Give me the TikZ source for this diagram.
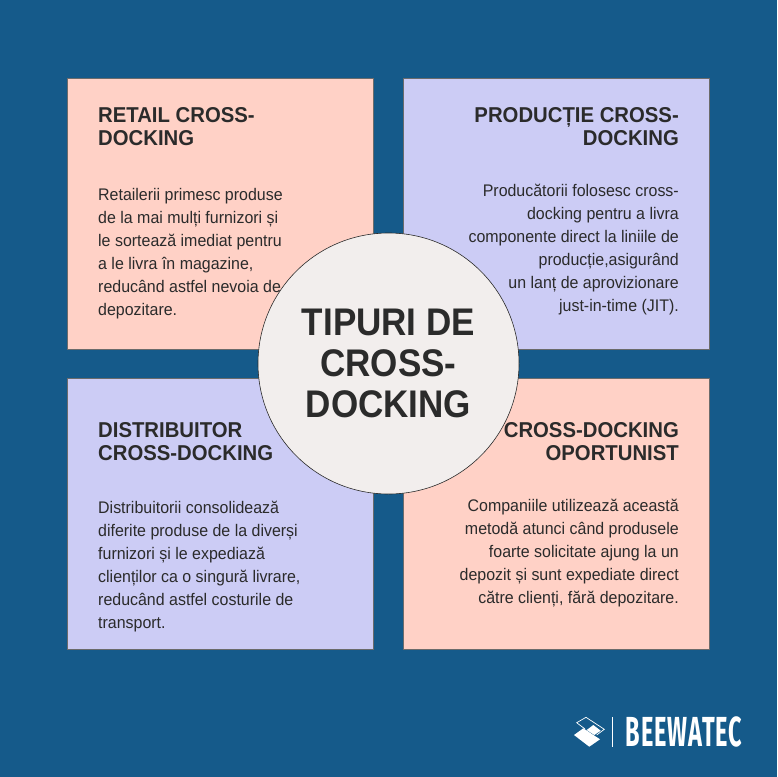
\documentclass[tikz,border=0pt]{standalone}
\usepackage{fontspec}
\setmainfont{Liberation Sans}
\newfontfamily\logofont[LetterSpace=4]{Fira Sans}
\definecolor{bgblue}{HTML}{155A8A}
\definecolor{peach}{HTML}{FFD1C6}
\definecolor{lav}{HTML}{CCCCF5}
\definecolor{disc}{HTML}{F2EEED}
\definecolor{ink}{HTML}{2B2B2B}
\tikzset{
  card/.style={draw=ink!70,line width=.6pt,outer sep=0,minimum width=306pt,minimum height=271pt,inner sep=0,anchor=north west},
  headL/.style={text=ink,inner sep=0,xscale=.945,anchor=north west,align=left,font=\fontsize{21.5}{23}\selectfont\bfseries},
  headR/.style={text=ink,inner sep=0,xscale=.945,anchor=north east,align=right,font=\fontsize{21.5}{23}\selectfont\bfseries},
  bodyL/.style={text=ink,inner sep=0,xscale=.95,anchor=north west,align=left,font=\fontsize{16.8}{23}\selectfont},
  bodyR/.style={text=ink,inner sep=0,xscale=.95,anchor=north east,align=right,font=\fontsize{16.8}{23}\selectfont},
}
\begin{document}
\begin{tikzpicture}[x=1pt,y=-1pt]
\useasboundingbox (0,0) rectangle (777,777);
\fill[bgblue] (0,0) rectangle (777,777);
\node[card,fill=peach] (a) at (67.3,78) {};
\node[card,fill=lav] (b) at (403.5,78) {};
\node[card,fill=lav] (c) at (67.3,377.8) {};
\node[card,fill=peach] (d) at (403.5,377.8) {};
\node[circle,draw=ink,line width=.6pt,fill=disc,minimum size=261pt,inner sep=0] (m) at (388.5,363.5) {};
\node[text=ink,inner sep=0,xscale=.91,align=center,font=\fontsize{38.5}{41}\selectfont\bfseries] (mt) at (388.5,363) {TIPURI DE\\CROSS-\\DOCKING};
\node[headL] (a1) at (98,107) {RETAIL CROSS-\\DOCKING};
\node[bodyL] (a2) at (98,188.5) {Retailerii primesc produse\\de la mai mulți furnizori și\\le sortează imediat pentru\\a le livra în magazine,\\reducând astfel nevoia de\\depozitare.};
\node[headR] (b1) at (679,107) {PRODUCȚIE CROSS-\\DOCKING};
\node[bodyR] (b2) at (679,183.5) {Producătorii folosesc cross-\\docking pentru a livra\\componente direct la liniile de\\producție,asigurând \\un lanț de aprovizionare\\just-in-time (JIT).};
\node[headL] (c1) at (98,422) {DISTRIBUITOR\\CROSS-DOCKING};
\node[bodyL] (c2) at (98,500.5) {Distribuitorii consolidează\\diferite produse de la diverși\\furnizori și le expediază\\clienților ca o singură livrare,\\reducând astfel costurile de\\transport.};
\node[headR] (d1) at (679,422) {CROSS-DOCKING\\OPORTUNIST};
\node[bodyR] (d2) at (679,498.5) {Companiile utilizează această\\metodă atunci când produsele\\foarte solicitate ajung la un\\depozit și sunt expediate direct\\către clienți, fără depozitare.};
% logo
\node[inner sep=0,anchor=west,text=white,xscale=.56,font=\fontsize{42}{42}\selectfont\logofont\bfseries] (logo) at (625.5,732) {BEEWATEC};
\draw[white,line width=.6pt] (612,717) -- (612,747);
\fill[white] (574,735) -- (583.3,728.3) -- (600,739.3) -- (589.3,746.7) -- cycle;
\draw[white,line width=.7pt] (585,729) -- (576.7,722.7) -- (586,717.3) -- (604.3,729.3) -- (596.7,735);
\fill[white] (586.7,730) -- (593.3,725) -- (600.7,730.7) -- (594.3,735) -- cycle;
\end{tikzpicture}
\end{document}
